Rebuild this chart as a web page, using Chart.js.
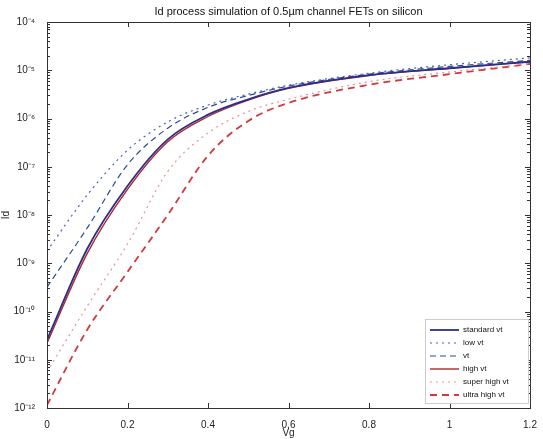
<!DOCTYPE html>
<html>
<head>
<meta charset="utf-8">
<script src="https://cdn.jsdelivr.net/npm/chart.js@4/dist/chart.umd.min.js"></script>
<style>
body { margin: 0; background: #fff; }
</style>
</head>
<body>
<canvas id="idVgChart" width="543" height="439"></canvas>
<script>
// gate voltage (x axis)
const vg = [0, 0.1, 0.2, 0.3, 0.4, 0.5, 0.6, 0.8, 1.0, 1.2];

// drain current for each device flavour
const idStandard = [2.6e-11, 2.0e-9, 4.0e-8, 3.7e-7, 1.2e-6, 2.5e-6, 4.3e-6, 7.9e-6, 1.1e-5, 1.5e-5];
const idLowVt    = [1.8e-9, 2.6e-8, 2.2e-7, 8.5e-7, 1.9e-6, 3.2e-6, 4.9e-6, 8.7e-6, 1.3e-5, 1.8e-5];
const idVt       = [3.2e-10, 5.4e-9, 1.1e-7, 6.3e-7, 1.7e-6, 3.0e-6, 4.7e-6, 8.3e-6, 1.2e-5, 1.6e-5];
const idHighVt   = [2.2e-11, 1.6e-9, 3.4e-8, 3.3e-7, 1.1e-6, 2.4e-6, 4.2e-6, 7.8e-6, 1.1e-5, 1.5e-5];
const idSuperHigh = [5.6e-12, 1.3e-10, 2.5e-9, 8.0e-8, 5.0e-7, 1.4e-6, 2.5e-6, 5.8e-6, 9.2e-6, 1.35e-5];
const idUltraHigh = [1.15e-12, 4.2e-11, 6.6e-10, 1.0e-8, 1.7e-7, 8.9e-7, 2.1e-6, 5.0e-6, 8.3e-6, 1.35e-5];

const seriesLabels = ['standard vt', 'low vt', 'vt', 'high vt', 'super high vt', 'ultra high vt'];
const xTicks = [0, 0.2, 0.4, 0.6, 0.8, 1.0, 1.2];
const yExponents = [-4, -5, -6, -7, -8, -9, -10, -11, -12];

const titleText = 'Id process simulation of 0.5µm channel FETs on silicon';

function sup(n) {
    const map = { '-': '⁻', '0': '⁰', '1': '¹', '2': '²', '3': '³', '4': '⁴', '5': '⁵', '6': '⁶', '7': '⁷', '8': '⁸', '9': '⁹' };
    return String(n).split('').map(c => map[c]).join('');
}

function toPoints(arr) {
    return arr.map((v, i) => ({ x: vg[i], y: v }));
}

const styles = [
    { color: '#2b2f8c', dash: [], width: 1.8 },
    { color: '#4a5fb8', dash: [2, 4], width: 1.2 },
    { color: '#2d4b9c', dash: [6, 4], width: 1.2 },
    { color: '#b0282c', dash: [], width: 1.4 },
    { color: '#ec8f8f', dash: [2, 4], width: 1.2 },
    { color: '#d3383a', dash: [7, 5], width: 1.8 }
];
const allData = [idStandard, idLowVt, idVt, idHighVt, idSuperHigh, idUltraHigh];

// box, inside ticks, title and legend
const matlabLook = {
    id: 'matlabLook',
    afterDraw(chart) {
        const c = chart.ctx;
        const a = chart.chartArea;
        const xs = chart.scales.x;
        const ys = chart.scales.y;
        c.save();
        c.strokeStyle = '#333';
        c.lineWidth = 1;
        c.strokeRect(a.left + 0.5, a.top + 0.5, a.right - a.left, a.bottom - a.top);

        c.beginPath();
        xTicks.forEach(t => {
            const px = Math.round(xs.getPixelForValue(t)) + 0.5;
            c.moveTo(px, a.bottom); c.lineTo(px, a.bottom - 5);
            c.moveTo(px, a.top); c.lineTo(px, a.top + 5);
        });
        yExponents.forEach(e => {
            const py = Math.round(ys.getPixelForValue(Math.pow(10, e))) + 0.5;
            c.moveTo(a.left, py); c.lineTo(a.left + 5, py);
            c.moveTo(a.right, py); c.lineTo(a.right - 5, py);
            if (e > -12) {
                for (let m = 2; m < 10; m++) {
                    const pm = Math.round(ys.getPixelForValue(m * Math.pow(10, e - 1))) + 0.5;
                    c.moveTo(a.left, pm); c.lineTo(a.left + 3, pm);
                    c.moveTo(a.right, pm); c.lineTo(a.right - 3, pm);
                }
            }
        });
        c.stroke();

        // title
        c.fillStyle = '#111';
        c.font = '11px "Liberation Sans", Arial, sans-serif';
        c.textAlign = 'center';
        c.textBaseline = 'middle';
        c.fillText(titleText, (a.left + a.right) / 2, 12);

        // legend
        const lx = 425, ly = 319, lw = 103, lh = 84;
        c.fillStyle = '#fff';
        c.fillRect(lx, ly, lw, lh);
        c.strokeStyle = '#ccc';
        c.strokeRect(lx + 0.5, ly + 0.5, lw, lh);
        c.textAlign = 'left';
        c.font = '8px "Liberation Sans", Arial, sans-serif';
        seriesLabels.forEach((lab, i) => {
            const yy = ly + 11 + i * 13;
            c.beginPath();
            c.strokeStyle = styles[i].color;
            c.lineWidth = styles[i].width;
            c.setLineDash(styles[i].dash);
            c.moveTo(lx + 5, yy); c.lineTo(lx + 34, yy);
            c.stroke();
            c.setLineDash([]);
            c.fillStyle = '#111';
            c.fillText(lab, lx + 38, yy);
        });
        c.restore();
    }
};

new Chart(document.getElementById('idVgChart').getContext('2d'), {
    type: 'line',
    data: {
        datasets: allData.map((d, i) => ({
            label: seriesLabels[i],
            data: toPoints(d),
            borderColor: styles[i].color,
            borderDash: styles[i].dash,
            borderWidth: styles[i].width,
            pointRadius: 0,
            fill: false,
            cubicInterpolationMode: 'monotone'
        }))
    },
    options: {
        responsive: false,
        animation: false,
        layout: { padding: { top: 22, right: 13, left: 0, bottom: 0 } },
        plugins: {
            legend: { display: false },
            tooltip: { enabled: false }
        },
        scales: {
            x: {
                type: 'linear',
                min: 0,
                max: 1.2,
                afterBuildTicks: s => { s.ticks = xTicks.map(v => ({ value: v })); },
                afterFit: s => { s.height = 31; },
                grid: { display: false },
                border: { display: false },
                ticks: {
                    color: '#222',
                    font: { size: 10, family: 'Liberation Sans' },
                    padding: 3,
                    callback: v => String(Math.round(v * 10) / 10)
                },
                title: {
                    display: true,
                    text: 'Vg',
                    color: '#222',
                    font: { size: 10, family: 'Liberation Sans' },
                    padding: 0
                }
            },
            y: {
                type: 'logarithmic',
                min: 1e-12,
                max: 1e-4,
                afterBuildTicks: s => { s.ticks = yExponents.map(e => ({ value: Math.pow(10, e) })); },
                afterFit: s => { s.width = 47; },
                grid: { display: false },
                border: { display: false },
                ticks: {
                    color: '#222',
                    font: { size: 10, family: 'Liberation Sans' },
                    padding: 4,
                    callback: v => '10' + sup(Math.round(Math.log10(v)))
                },
                title: {
                    display: true,
                    text: 'Id',
                    color: '#222',
                    font: { size: 10, family: 'Liberation Sans' },
                    padding: 0
                }
            }
        }
    },
    plugins: [matlabLook]
});
</script>
</body>
</html>
